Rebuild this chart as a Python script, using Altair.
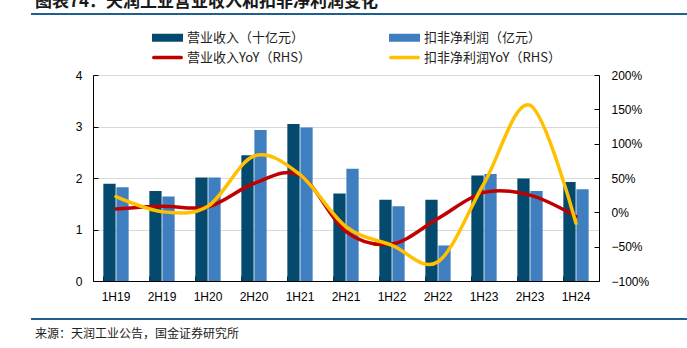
import altair as alt
import pandas as pd

categories = ["1H19", "2H19", "1H20", "2H20", "1H21", "2H21", "1H22", "2H22", "1H23", "2H23", "1H24"]
revenue = [1.89, 1.75, 2.01, 2.44, 3.05, 1.70, 1.58, 1.58, 2.05, 1.99, 1.92]
profit = [1.82, 1.64, 2.01, 2.93, 2.98, 2.18, 1.45, 0.69, 2.08, 1.75, 1.78]
revenue_yoy = [0.05, 0.09, 0.08, 0.42, 0.54, -0.28, -0.46, -0.09, 0.29, 0.25, -0.06]
profit_yoy = [0.23, 0.01, 0.09, 0.82, 0.55, -0.21, -0.48, -0.72, 0.42, 1.56, -0.16]

series_names = ["营业收入（十亿元）", "扣非净利润（亿元）", "营业收入YoY（RHS）", "扣非净利润YoY（RHS）"]
series_colors = ["#034a6e", "#3f7fbf", "#c00000", "#ffc000"]

title_text = "图表74：天润工业营业收入和扣非净利润变化"
source_text = "来源：天润工业公告，国金证券研究所"

bar_df = pd.DataFrame(
    [{"cat": c, "series": series_names[0], "value": v} for c, v in zip(categories, revenue)]
    + [{"cat": c, "series": series_names[1], "value": v} for c, v in zip(categories, profit)]
)
red_df = pd.DataFrame({"cat": categories, "series": series_names[2], "yoy": revenue_yoy})
yel_df = pd.DataFrame({"cat": categories, "series": series_names[3], "yoy": profit_yoy})

cjk = "Noto Sans CJK SC"
lat = "Liberation Sans"

legend = alt.Legend(
    title=None, orient="none", legendX=59, legendY=-44, columns=2, direction="horizontal",
    columnPadding=78, rowPadding=6, padding=0, clipHeight=13,
    symbolType={"expr": "indexof(datum.value, 'YoY') >= 0 ? 'M-0.88,-0.12H0.88A0.12,0.12 0 0 1 0.88,0.12H-0.88A0.12,0.12 0 0 1 -0.88,-0.12Z' : 'M-1,-0.26H1V0.26H-1Z'"},
    symbolFillColor={"expr": "scale('color', datum.value)"},
    symbolSize=961, symbolStrokeWidth=0,
    labelFont=cjk, labelFontSize=13, labelColor="#222222", labelOffset=4,
)
color_enc = alt.Color("series:N", scale=alt.Scale(domain=series_names, range=series_colors), legend=legend)

x_axis = alt.Axis(title=None, labelFont=lat, labelFontSize=12, labelColor="#000000", labelAngle=0,
                  labelPadding=15, tickSize={"expr": "-5"}, tickColor="#000000", domainColor="#000000",
                  bandPosition=0, grid=False)
x_enc = alt.X("cat:N", sort=categories,
              scale=alt.Scale(domain=categories, paddingInner=0.45, paddingOuter=0.225),
              axis=x_axis)

bars = alt.Chart(bar_df).mark_bar().encode(
    x=x_enc,
    xOffset=alt.XOffset("series:N", scale=alt.Scale(domain=series_names[:2], paddingInner=0.06)),
    y=alt.Y("value:Q", scale=alt.Scale(domain=[0, 4], nice=False),
            axis=alt.Axis(title=None, values=[0, 1, 2, 3, 4], format="d", labelFont=lat, labelFontSize=12,
                          labelColor="#000000", labelPadding=16, tickSize={"expr": "-5"},
                          tickColor="#000000", domainColor="#000000", grid=True,
                          gridColor="#d9d9d9", gridWidth=1.2)),
    color=color_enc,
)

right_axis = alt.Axis(title=None, orient="right", values=[-1, -0.5, 0, 0.5, 1, 1.5, 2], format=".0%",
                      labelFont=lat, labelFontSize=12, labelColor="#000000", labelPadding=17,
                      tickSize={"expr": "-5"}, tickColor="#000000", domainColor="#000000", grid=False)


def yoy_line(df):
    return alt.Chart(df).mark_line(interpolate="cardinal", strokeWidth=3.5, strokeCap="round").encode(
        x=x_enc,
        y=alt.Y("yoy:Q", scale=alt.Scale(domain=[-1, 2], nice=False), axis=right_axis),
        color=color_enc,
    )


lines = alt.layer(yoy_line(red_df), yoy_line(yel_df))

one = pd.DataFrame({"t": [title_text], "s": [source_text]})
title_mark = alt.Chart(one).mark_text(font=cjk, fontSize=17, fontWeight="bold", align="left",
                                      baseline="alphabetic", color="#1a1a1a").encode(
    x=alt.value(-58), y=alt.value(-68), text="t:N")
top_rule = alt.Chart(one).mark_rule(color="#1f5f8f", strokeWidth=2).encode(
    x=alt.value(-62), x2=alt.value(594), y=alt.value(-61))
bottom_rule = alt.Chart(one).mark_rule(color="#1f5f8f", strokeWidth=2).encode(
    x=alt.value(-62), x2=alt.value(594), y=alt.value(244))
source_mark = alt.Chart(one).mark_text(font=cjk, fontSize=12, align="left", baseline="middle",
                                       color="#222222").encode(
    x=alt.value(-58), y=alt.value(259), text="s:N")

chart = alt.layer(bars, lines, title_mark, top_rule, bottom_rule, source_mark).resolve_scale(
    y="independent"
).properties(
    width=506, height=206,
    autosize=alt.AutoSizeParams(type="none"),
    padding={"left": 93, "top": 75, "right": 88, "bottom": 67},
).configure_view(stroke=None).configure(background="white")

chart.save("out.html", embed_options={"renderer": "svg", "actions": False})
